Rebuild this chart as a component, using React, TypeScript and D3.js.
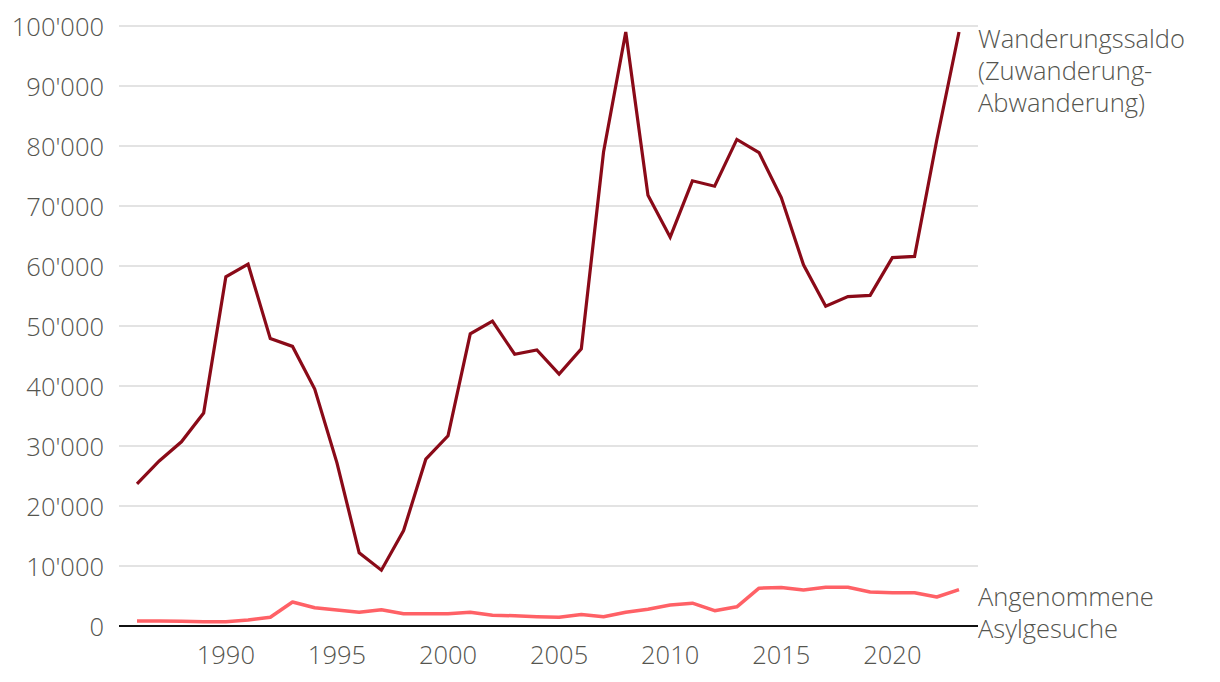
import React from "react";
import * as d3 from "d3";

const years: number[] = d3.range(1986, 2024);
const saldo: number[] = [
  23.7, 27.5, 30.7, 35.5, 58.2, 60.3, 47.9, 46.6, 39.5, 27.2,
  12.2, 9.3, 15.9, 27.8, 31.7, 48.7, 50.8, 45.3, 46.0, 42.0,
  46.2, 79.0, 99.0, 71.8, 64.8, 74.2, 73.3, 81.1, 78.9, 71.4,
  60.2, 53.3, 54.9, 55.1, 61.4, 61.6, 81.0, 99.0,
].map((v) => v * 1000);
const asyl: number[] = [
  0.83, 0.85, 0.8, 0.72, 0.7, 1.0, 1.45, 4.0, 3.05, 2.67,
  2.28, 2.7, 2.05, 2.05, 2.05, 2.3, 1.8, 1.7, 1.55, 1.45,
  1.9, 1.55, 2.3, 2.8, 3.5, 3.8, 2.55, 3.2, 6.3, 6.4,
  6.0, 6.45, 6.45, 5.67, 5.55, 5.55, 4.83, 6.05,
].map((v) => v * 1000);
const yTicks: number[] = [0, 10000, 20000, 30000, 40000, 50000, 60000, 70000, 80000, 90000, 100000];
const xTicks: number[] = [1990, 1995, 2000, 2005, 2010, 2015, 2020];
const saldoLabel: string[] = ["Wanderungssaldo", "(Zuwanderung-", "Abwanderung)"];
const asylLabel: string[] = ["Angenommene", "Asylgesuche"];

const W = 1220;
const H = 682;
const FONT = "'Open Sans', sans-serif";
const TEXT = "#55554f";
const FS = 25.5;

export default function App() {
  const x = d3.scaleLinear().domain([1986, 2023]).range([137, 959]);
  const y = d3.scaleLinear().domain([0, 100000]).range([626, 26]);
  const gridX0 = 119;
  const gridX1 = 978;
  const fmt = (v: number) => d3.format(",")(v).replace(/,/g, "'");
  const line = d3
    .line<number>()
    .x((_, i) => x(years[i]))
    .y((d) => y(d));

  return (
    <svg width={W} height={H} style={{ position: "absolute", left: 0, top: 0, background: "#fff" }}>
      <g fontFamily={FONT} fontWeight={300} fill={TEXT}>
        {yTicks.map((t) => (
          <g key={t}>
            {t !== 0 && (
              <line x1={gridX0} x2={gridX1} y1={y(t)} y2={y(t)} stroke="#e3e3e3" strokeWidth={2} />
            )}
            <text x={104} y={y(t) + 9.5} textAnchor="end" fontSize={FS}>
              {fmt(t)}
            </text>
          </g>
        ))}
        {xTicks.map((t) => (
          <text key={t} x={x(t)} y={664} textAnchor="middle" fontSize={FS}>
            {t}
          </text>
        ))}
      </g>
      <path d={line(asyl) || ""} fill="none" stroke="#ff6166" strokeWidth={3.5} strokeLinejoin="round" />
      <path d={line(saldo) || ""} fill="none" stroke="#8a0a18" strokeWidth={3.2} strokeLinejoin="miter" />
      <line x1={gridX0} x2={gridX1} y1={y(0)} y2={y(0)} stroke="#111" strokeWidth={2} />
      <g fontFamily={FONT} fontWeight={300} fill={TEXT} fontSize={FS}>
        {saldoLabel.map((s, i) => (
          <text key={s} x={978} y={48 + i * 32}>
            {s}
          </text>
        ))}
        {asylLabel.map((s, i) => (
          <text key={s} x={978} y={606 + i * 32}>
            {s}
          </text>
        ))}
      </g>
    </svg>
  );
}
